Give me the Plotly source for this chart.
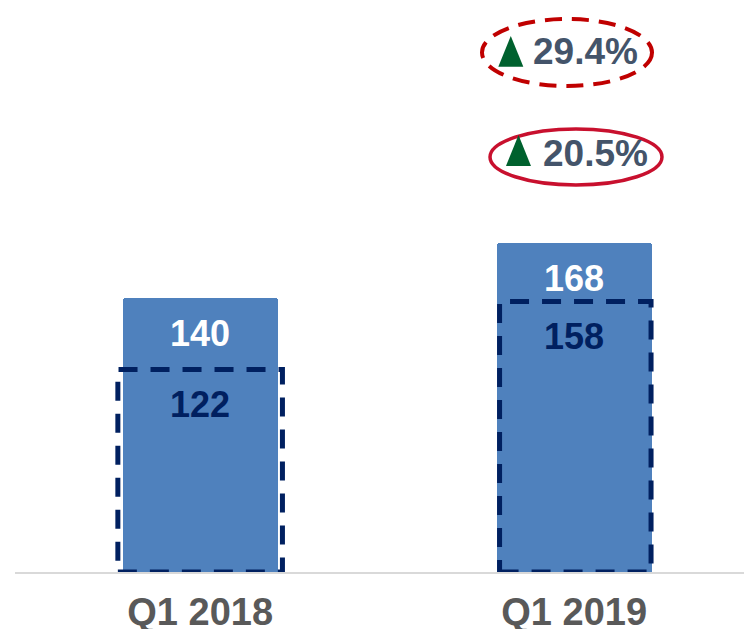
import plotly.graph_objects as go

# ---- data ----
categories = ["Q1 2018", "Q1 2019"]
total_values = [140, 168]          # solid bars
core_values = [122, 158]           # dashed outlined bars
growth_total = "29.4%"             # dashed-ellipse growth
growth_core = "20.5%"              # solid-ellipse growth

# ---- styles ----
FONT = "Arial, Liberation Sans, sans-serif"
BAR_BLUE = "#4F81BD"
NAVY = "#002060"
GRAY = "#595959"
SLATE = "#44546A"
GREEN = "#00612E"

fig = go.Figure()

fig.add_trace(go.Bar(
    x=[0, 1], y=total_values, width=0.415,
    marker=dict(color=BAR_BLUE, line=dict(width=0)),
    marker_cornerradius=3,
    hoverinfo="skip", showlegend=False,
))
# invisible trace to activate y2
fig.add_trace(go.Scatter(x=[0, 1], y=core_values, yaxis="y2", mode="markers",
                         marker=dict(opacity=0), hoverinfo="skip", showlegend=False))

outline_w = [0.44, 0.405]
outline_dx = [0.0, 0.003]
shapes = []
annotations = []
for i, v in enumerate(core_values):
    w = outline_w[i]
    c = i + outline_dx[i]
    shapes.append(dict(type="rect", xref="x", yref="y2",
                       x0=c - w / 2, x1=c + w / 2, y0=14.8, y1=v,
                       line=dict(color=NAVY, width=5, dash="19px,13px"),
                       fillcolor="rgba(0,0,0,0)", layer="above"))
    annotations.append(dict(x=i, y=v, xref="x", yref="y2", text=f"<b>{v}</b>",
                            showarrow=False, yanchor="middle", yshift=-35,
                            font=dict(family=FONT, size=36, color=NAVY)))
for i, v in enumerate(total_values):
    annotations.append(dict(x=i, y=v, xref="x", yref="y", text=f"<b>{v}</b>",
                            showarrow=False, yanchor="middle", yshift=-36,
                            font=dict(family=FONT, size=36, color="white")))

# growth ellipses
shapes.append(dict(type="circle", xref="paper", yref="paper",
                   x0=0.6406, x1=0.8738, y0=0.8497, y1=0.9668,
                   line=dict(color="#C00000", width=4, dash="17px,10px")))
shapes.append(dict(type="circle", xref="paper", yref="paper",
                   x0=0.6516, x1=0.8875, y0=0.6766, y1=0.7745,
                   line=dict(color="#C8102E", width=3.5)))
# up triangles
shapes.append(dict(type="path", xref="paper", yref="paper",
                   path="M 0.6630 0.8834 L 0.6973 0.8834 L 0.6801 0.9371 Z",
                   fillcolor=GREEN, line=dict(width=0)))
shapes.append(dict(type="path", xref="paper", yref="paper",
                   path="M 0.6735 0.7098 L 0.7078 0.7098 L 0.6907 0.7640 Z",
                   fillcolor=GREEN, line=dict(width=0)))
annotations.append(dict(x=0.7080, y=0.910, xref="paper", yref="paper",
                        xanchor="left", yanchor="middle",
                        text=f"<b>{growth_total}</b>",
                        showarrow=False, font=dict(family=FONT, size=37, color=SLATE)))
annotations.append(dict(x=0.7217, y=0.7325, xref="paper", yref="paper",
                        xanchor="left", yanchor="middle",
                        text=f"<b>{growth_core}</b>",
                        showarrow=False, font=dict(family=FONT, size=37, color=SLATE)))

fig.update_layout(
    width=744, height=629,
    margin=dict(l=15, r=0, t=0, b=57, autoexpand=False),
    paper_bgcolor="white", plot_bgcolor="white",
    xaxis=dict(tickmode="array", tickvals=[0, 1], ticktext=[f"<b>{c}</b>" for c in categories],
               range=[-0.495, 1.454], showline=True, linecolor="#D9D9D9", linewidth=2,
               showgrid=False, zeroline=False, ticks="", ticklabelstandoff=5,
               automargin=False,
               tickfont=dict(family=FONT, size=38, color=GRAY)),
    yaxis=dict(range=[0, 292], visible=False, showgrid=False, zeroline=False, automargin=False),
    yaxis2=dict(range=[14.8, 317.6], overlaying="y", visible=False,
                showgrid=False, zeroline=False, automargin=False),
    shapes=shapes, annotations=annotations,
    bargap=0,
)

fig.write_html("out.html", config={"displayModeBar": False},
               post_script="document.body.style.margin='0';document.body.style.overflow='hidden';")
